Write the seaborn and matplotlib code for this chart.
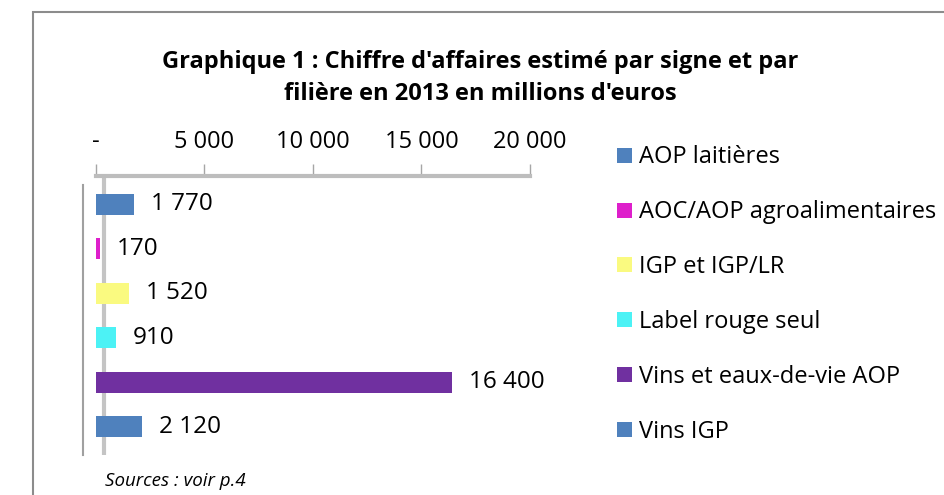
import matplotlib
matplotlib.use("Agg")
import matplotlib.pyplot as plt
from matplotlib.patches import Patch, Rectangle
import seaborn as sns
import pandas as pd

categories = ["AOP laitières", "AOC/AOP agroalimentaires", "IGP et IGP/LR",
              "Label rouge seul", "Vins et eaux-de-vie AOP", "Vins IGP"]
values = [1770, 170, 1520, 910, 16400, 2120]
colors = ["#4F81BD", "#DE1FCB", "#FAFA80", "#4CF2F5", "#7030A0", "#4F81BD"]
xticks = [0, 5000, 10000, 15000, 20000]
xticklabels = ["-", "5 000", "10 000", "15 000", "20 000"]
title = "Graphique 1 : Chiffre d'affaires estimé par signe et par\nfilière en 2013 en millions d'euros"
source = "Sources : voir p.4"

sns.set_theme(style="white")
plt.rcParams["font.family"] = ["Open Sans", "DejaVu Sans"]
plt.rcParams["text.color"] = "black"
plt.rcParams["xtick.color"] = "black"

W, H = 945, 495
fig = plt.figure(figsize=(W / 100, H / 100), dpi=100)

# outer frame
fig.add_artist(Rectangle((33 / W, -0.1), 1.2, (1 - 12 / H) + 0.1, transform=fig.transFigure,
                         fill=False, edgecolor="#8C8C8C", linewidth=1.5))

ax = fig.add_axes([96 / W, 40 / H, 434 / W, 279 / H])
df = pd.DataFrame({"cat": categories, "val": values})
sns.barplot(data=df, x="val", y="cat", hue="cat", palette=colors, order=categories,
            hue_order=categories, dodge=False, legend=False, width=0.47, ax=ax,
            edgecolor="none", saturation=1, zorder=3)

ax.set_xlim(0, 20000)
ax.set_ylim(5.63, -0.63)
ax.set_xlabel("")
ax.set_ylabel("")
ax.set_yticks([])
ax.xaxis.tick_top()
ax.set_xticks(xticks)
ax.set_xticklabels(xticklabels, fontsize=17, color="black")
ax.tick_params(axis="x", top=True, bottom=False, direction="out", length=9,
               width=1, color="#A6A6A6", pad=7)
for s in ["right", "bottom"]:
    ax.spines[s].set_visible(False)
ax.spines["top"].set_color("#BDBDBD")
ax.spines["top"].set_linewidth(3)
ax.spines["left"].set_color("#A0A0A0")
ax.spines["left"].set_linewidth(1.5)
ax.spines["left"].set_position(("outward", 9))
ax.spines["left"].set_bounds(5.63, -0.43)
ax.axvline(350, color="#C4C4C4", lw=3, zorder=1)

for cont in ax.containers:
    ax.bar_label(cont, labels=[f"{v:,.0f}".replace(",", " ") for v in cont.datavalues],
                 padding=12, fontsize=17.5, color="black")

handles = [Patch(facecolor=c, edgecolor="none") for c in colors]
fig.legend(handles, categories, loc="upper left", bbox_to_anchor=(608 / W, 1 - 136 / H),
           frameon=False, fontsize=17, handlelength=0.6, handleheight=0.6,
           handletextpad=0.3, labelspacing=1.31, borderaxespad=0)

fig.text(480 / W, 1 - 78 / H, title, ha="center", va="center", fontsize=17,
         fontweight="bold", linespacing=1.5)
fig.text(105 / W, 1 - 481 / H, source, ha="left", va="center", fontsize=13.5,
         style="italic")

fig.savefig("out.png", dpi=100)
